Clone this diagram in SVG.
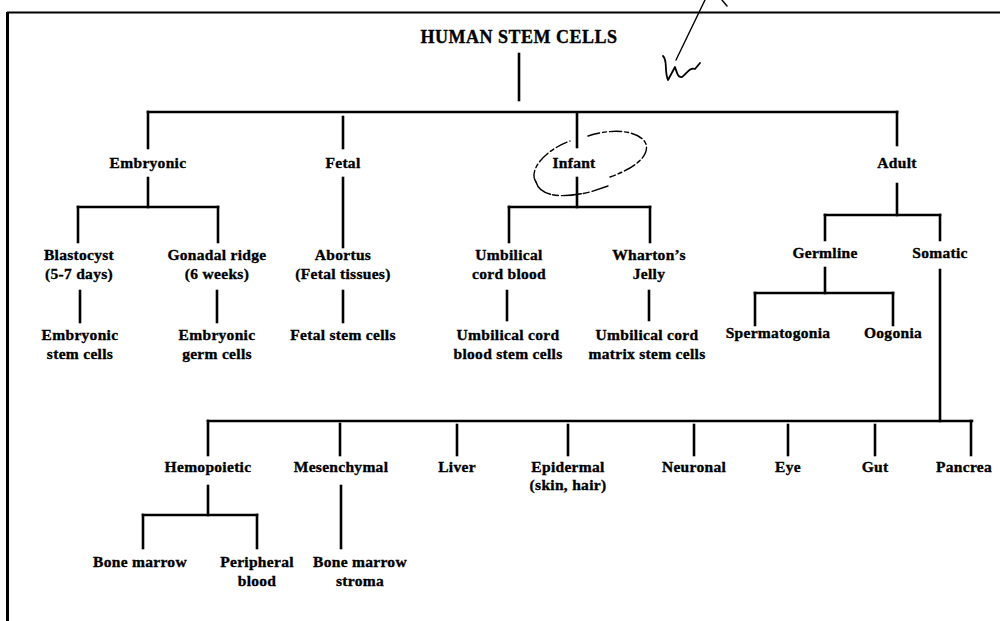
<svg xmlns="http://www.w3.org/2000/svg" width="1000" height="621" viewBox="0 0 1000 621">
<style>
.t{font-family:"Liberation Serif","Times New Roman",serif;font-weight:bold;font-size:15.5px;letter-spacing:0.3px;fill:#000;stroke:#000;stroke-width:0.35;text-anchor:middle}
.title{font-size:18px;letter-spacing:0.5px}
.c line{stroke:#000;stroke-width:2.6;stroke-linecap:square}
.hand{fill:none;stroke:#000;stroke-width:1.4;stroke-linecap:round;stroke-linejoin:round}
</style>
<rect x="0" y="0" width="1000" height="621" fill="#fff"/>
<g id="frame">
<line x1="7" y1="12.5" x2="1000" y2="12.5" stroke="#000" stroke-width="2.2"/>
<line x1="7.5" y1="12" x2="7.5" y2="621" stroke="#000" stroke-width="3"/>
</g>
<g id="handwriting" class="hand">
<path d="M705 0 L676 60"/>
<path d="M722 0 L727 6"/>
<path d="M663 56 C668 61 664 71 668 80 L675 67 C677 73 678 78 682 77 C687 73 690 67 695 69 L700 63" stroke-width="1.8"/>
<path d="M536 182 C528 170 545 150 570 141 M588 136 C612 128 640 130 646 144 C650 158 630 170 610 177" stroke-dasharray="12 3 4 3"/>
<path d="M536 182 C540 196 560 199 590 192 L608 186" stroke-dasharray="20 2 6 3"/>
</g>
<g id="connectors" class="c">
<line x1="519" y1="54" x2="519" y2="100"/>
<line x1="148" y1="112" x2="897" y2="112"/>
<line x1="148" y1="112" x2="148" y2="148"/>
<line x1="343" y1="117" x2="343" y2="148"/>
<line x1="577" y1="113" x2="577" y2="147"/>
<line x1="897" y1="112" x2="897" y2="145"/>
<line x1="148" y1="178" x2="148" y2="207"/>
<line x1="78" y1="207" x2="218" y2="207"/>
<line x1="78" y1="207" x2="78" y2="242"/>
<line x1="218" y1="207" x2="218" y2="242"/>
<line x1="80" y1="291" x2="80" y2="322"/>
<line x1="217" y1="291" x2="217" y2="322"/>
<line x1="343" y1="178" x2="343" y2="247"/>
<line x1="343" y1="291" x2="343" y2="322"/>
<line x1="577" y1="178" x2="577" y2="207"/>
<line x1="509" y1="207" x2="650" y2="207"/>
<line x1="509" y1="207" x2="509" y2="242"/>
<line x1="650" y1="207" x2="650" y2="242"/>
<line x1="507" y1="291" x2="507" y2="320"/>
<line x1="649" y1="291" x2="649" y2="320"/>
<line x1="897" y1="184" x2="897" y2="215"/>
<line x1="825" y1="215" x2="940" y2="215"/>
<line x1="825" y1="215" x2="825" y2="240"/>
<line x1="940" y1="215" x2="940" y2="240"/>
<line x1="825" y1="268" x2="825" y2="293"/>
<line x1="755" y1="293" x2="893" y2="293"/>
<line x1="755" y1="293" x2="755" y2="325"/>
<line x1="893" y1="293" x2="893" y2="325"/>
<line x1="940" y1="270" x2="940" y2="421"/>
<line x1="208" y1="421" x2="972" y2="421"/>
<line x1="208" y1="421" x2="208" y2="455"/>
<line x1="340" y1="424" x2="340" y2="455"/>
<line x1="457" y1="425" x2="457" y2="455"/>
<line x1="568" y1="425" x2="568" y2="455"/>
<line x1="694" y1="425" x2="694" y2="455"/>
<line x1="788" y1="425" x2="788" y2="455"/>
<line x1="875" y1="425" x2="875" y2="455"/>
<line x1="971" y1="421" x2="971" y2="455"/>
<line x1="208" y1="486" x2="208" y2="515"/>
<line x1="143" y1="515" x2="257" y2="515"/>
<line x1="143" y1="515" x2="143" y2="548"/>
<line x1="257" y1="515" x2="257" y2="548"/>
<line x1="341" y1="486" x2="341" y2="548"/>
</g>
<g id="n-root"><text class="t title" x="519" y="43">HUMAN STEM CELLS</text></g>
<g id="n-embryonic"><text class="t" x="148" y="168">Embryonic</text></g>
<g id="n-fetal"><text class="t" x="343" y="168">Fetal</text></g>
<g id="n-infant"><text class="t" x="574" y="168">Infant</text></g>
<g id="n-adult"><text class="t" x="897" y="168">Adult</text></g>
<g id="n-blastocyst"><text class="t" x="79" y="260">Blastocyst</text><text class="t" x="79" y="279">(5-7 days)</text></g>
<g id="n-gonadal"><text class="t" x="217" y="260">Gonadal ridge</text><text class="t" x="217" y="279">(6 weeks)</text></g>
<g id="n-abortus"><text class="t" x="343" y="260">Abortus</text><text class="t" x="343" y="279">(Fetal tissues)</text></g>
<g id="n-ucb"><text class="t" x="509" y="260">Umbilical</text><text class="t" x="509" y="279">cord blood</text></g>
<g id="n-wharton"><text class="t" x="649" y="260">Wharton’s</text><text class="t" x="649" y="279">Jelly</text></g>
<g id="n-germline"><text class="t" x="825" y="258">Germline</text></g>
<g id="n-somatic"><text class="t" x="940" y="258">Somatic</text></g>
<g id="n-esc"><text class="t" x="80" y="340">Embryonic</text><text class="t" x="80" y="359">stem cells</text></g>
<g id="n-egc"><text class="t" x="217" y="340">Embryonic</text><text class="t" x="217" y="359">germ cells</text></g>
<g id="n-fsc"><text class="t" x="343" y="340">Fetal stem cells</text></g>
<g id="n-ucbsc"><text class="t" x="508" y="340">Umbilical cord</text><text class="t" x="508" y="359">blood stem cells</text></g>
<g id="n-ucmsc"><text class="t" x="647" y="340">Umbilical cord</text><text class="t" x="647" y="359">matrix stem cells</text></g>
<g id="n-sperm"><text class="t" x="778" y="338">Spermatogonia</text></g>
<g id="n-oogonia"><text class="t" x="893" y="338">Oogonia</text></g>
<g id="n-hemo"><text class="t" x="208" y="472">Hemopoietic</text></g>
<g id="n-mesen"><text class="t" x="341" y="472">Mesenchymal</text></g>
<g id="n-liver"><text class="t" x="457" y="472">Liver</text></g>
<g id="n-epi"><text class="t" x="568" y="472">Epidermal</text><text class="t" x="568" y="490">(skin, hair)</text></g>
<g id="n-neuro"><text class="t" x="694" y="472">Neuronal</text></g>
<g id="n-eye"><text class="t" x="788" y="472">Eye</text></g>
<g id="n-gut"><text class="t" x="875" y="472">Gut</text></g>
<g id="n-pancrea"><text class="t" x="964" y="472">Pancrea</text></g>
<g id="n-bm"><text class="t" x="140" y="567">Bone marrow</text></g>
<g id="n-pb"><text class="t" x="257" y="567">Peripheral</text><text class="t" x="257" y="586">blood</text></g>
<g id="n-bms"><text class="t" x="360" y="567">Bone marrow</text><text class="t" x="360" y="586">stroma</text></g>
</svg>
